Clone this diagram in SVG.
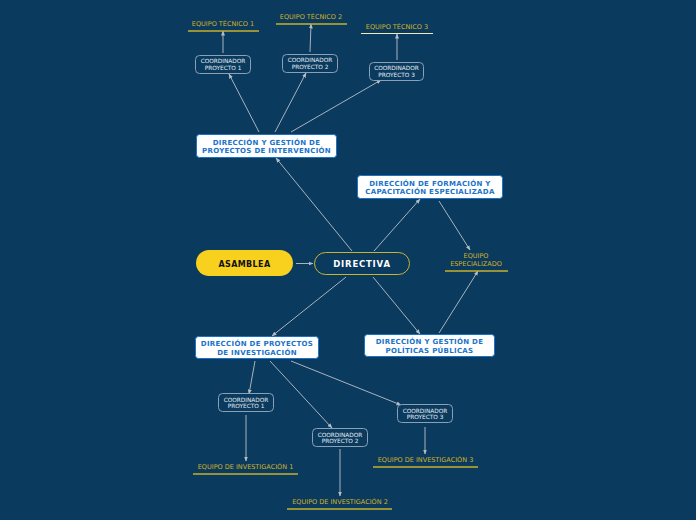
<svg xmlns="http://www.w3.org/2000/svg" width="696" height="520" viewBox="0 0 696 520">
<defs>
<marker id="arr" viewBox="0 0 10 10" refX="9" refY="5" markerWidth="5" markerHeight="5" orient="auto-start-reverse" markerUnits="userSpaceOnUse">
<path d="M0,1 L10,5 L0,9 Z" fill="#b4bcc4"/>
</marker>
<style>
.bg{fill:#0a3a5e}
.c{stroke:#a9b3bd;stroke-width:1;fill:none;marker-end:url(#arr)}
.main{fill:#ffffff;stroke:#1a73c9;stroke-width:1}
.mt{font-family:"DejaVu Sans",Verdana,sans-serif;font-weight:bold;font-size:7px;fill:#1a73c9;text-anchor:middle;letter-spacing:0.3px}
.coord{fill:#0a3a5e;stroke:#8aa0b4;stroke-width:1}
.ct{font-family:"DejaVu Sans",Verdana,sans-serif;font-size:5.8px;fill:#e6ecf2;text-anchor:middle}
.et{font-family:"DejaVu Sans",Verdana,sans-serif;font-size:6.5px;fill:#d4b227;text-anchor:middle}
.ul{stroke:#c9b12a;stroke-width:1.5}
</style>
</defs>
<rect class="bg" x="0" y="0" width="696" height="520"/>

<g id="connectors">
<line class="c" x1="296" y1="263.5" x2="313" y2="263.5"/>
<line class="c" x1="352" y1="251" x2="276" y2="158"/>
<line class="c" x1="374" y1="251" x2="420" y2="199"/>
<line class="c" x1="346" y1="277" x2="272" y2="336"/>
<line class="c" x1="373" y1="277" x2="420" y2="334"/>
<line class="c" x1="439" y1="201" x2="470" y2="250"/>
<line class="c" x1="439" y1="333" x2="478" y2="271"/>
<line class="c" x1="259" y1="132" x2="229" y2="74"/>
<line class="c" x1="275" y1="132" x2="306" y2="73"/>
<line class="c" x1="291" y1="132" x2="381" y2="80"/>
<line class="c" x1="223" y1="53" x2="223" y2="31"/>
<line class="c" x1="310" y1="52" x2="311" y2="24"/>
<line class="c" x1="397" y1="60" x2="397" y2="34"/>
<line class="c" x1="255" y1="361" x2="249" y2="394"/>
<line class="c" x1="270" y1="361" x2="332" y2="428"/>
<line class="c" x1="291" y1="361" x2="401" y2="405"/>
<line class="c" x1="246" y1="415" x2="246" y2="461"/>
<line class="c" x1="340" y1="449" x2="340" y2="496"/>
<line class="c" x1="425" y1="427" x2="425" y2="454"/>
</g>

<g id="asamblea">
<rect x="196" y="250" width="97" height="26" rx="13" fill="#f8d01e"/>
<text x="244.5" y="266.5" font-family="DejaVu Sans,Verdana,sans-serif" font-weight="bold" font-size="8px" fill="#111" text-anchor="middle" letter-spacing="0.4">ASAMBLEA</text>
</g>

<g id="directiva">
<rect x="314.5" y="252.5" width="95" height="22" rx="11" fill="#0a3a5e" stroke="#c7b52e" stroke-width="1"/>
<text x="362" y="266.5" font-family="DejaVu Sans,Verdana,sans-serif" font-weight="bold" font-size="8.5px" fill="#ffffff" text-anchor="middle" letter-spacing="0.8">DIRECTIVA</text>
</g>

<g id="dgpi">
<rect class="main" x="196.5" y="134.5" width="140" height="23" rx="3"/>
<text class="mt" x="266.5" y="144.5">DIRECCIÓN Y GESTIÓN DE</text>
<text class="mt" x="266.5" y="153">PROYECTOS DE INTERVENCIÓN</text>
</g>

<g id="dfce">
<rect class="main" x="357.5" y="175.5" width="145" height="23" rx="3"/>
<text class="mt" x="430" y="185.5">DIRECCIÓN DE FORMACIÓN Y</text>
<text class="mt" x="430" y="194">CAPACITACIÓN ESPECIALIZADA</text>
</g>

<g id="dpi">
<rect class="main" x="195.5" y="336.5" width="123" height="22" rx="3"/>
<text class="mt" x="257" y="346">DIRECCIÓN DE PROYECTOS</text>
<text class="mt" x="257" y="355">DE INVESTIGACIÓN</text>
</g>

<g id="dgpp">
<rect class="main" x="364.5" y="334.5" width="130" height="22" rx="3"/>
<text class="mt" x="429.5" y="344">DIRECCIÓN Y GESTIÓN DE</text>
<text class="mt" x="429.5" y="353">POLÍTICAS PÚBLICAS</text>
</g>

<g id="equipo-especializado">
<text class="et" x="476" y="258">EQUIPO</text>
<text class="et" x="476" y="266">ESPECIALIZADO</text>
<line class="ul" x1="445" y1="271" x2="508" y2="271"/>
</g>

<g id="coord-top-1">
<rect class="coord" x="195.5" y="55.5" width="55" height="18" rx="4"/>
<text class="ct" x="223" y="63">COORDINADOR</text>
<text class="ct" x="223" y="69.5">PROYECTO 1</text>
</g>
<g id="coord-top-2">
<rect class="coord" x="282.5" y="54.5" width="55" height="18" rx="4"/>
<text class="ct" x="310" y="62">COORDINADOR</text>
<text class="ct" x="310" y="68.5">PROYECTO 2</text>
</g>
<g id="coord-top-3">
<rect class="coord" x="369.5" y="62.5" width="54" height="18" rx="4"/>
<text class="ct" x="396.5" y="70">COORDINADOR</text>
<text class="ct" x="396.5" y="76.5">PROYECTO 3</text>
</g>

<g id="equipo-tecnico-1">
<text class="et" x="223" y="25.5">EQUIPO TÉCNICO 1</text>
<line class="ul" x1="188" y1="31" x2="259" y2="31"/>
</g>
<g id="equipo-tecnico-2">
<text class="et" x="311" y="19">EQUIPO TÉCNICO 2</text>
<line class="ul" x1="276" y1="24" x2="347" y2="24"/>
</g>
<g id="equipo-tecnico-3">
<text class="et" x="397" y="29">EQUIPO TÉCNICO 3</text>
<line x1="361" y1="33.5" x2="433" y2="33.5" stroke="#f2e9b8" stroke-width="1"/>
</g>

<g id="coord-inv-1">
<rect class="coord" x="218.5" y="393.5" width="55" height="18" rx="4"/>
<text class="ct" x="246" y="401.5">COORDINADOR</text>
<text class="ct" x="246" y="408">PROYECTO 1</text>
</g>
<g id="coord-inv-2">
<rect class="coord" x="312.5" y="428.5" width="55" height="18" rx="4"/>
<text class="ct" x="340" y="436.5">COORDINADOR</text>
<text class="ct" x="340" y="443">PROYECTO 2</text>
</g>
<g id="coord-inv-3">
<rect class="coord" x="397.5" y="404.5" width="55" height="18" rx="4"/>
<text class="ct" x="425" y="412.5">COORDINADOR</text>
<text class="ct" x="425" y="419">PROYECTO 3</text>
</g>

<g id="equipo-inv-1">
<text class="et" x="245.5" y="469">EQUIPO DE INVESTIGACIÓN 1</text>
<line class="ul" x1="193" y1="474" x2="298" y2="474"/>
</g>
<g id="equipo-inv-2">
<text class="et" x="340" y="504">EQUIPO DE INVESTIGACIÓN 2</text>
<line class="ul" x1="287" y1="509" x2="392" y2="509"/>
</g>
<g id="equipo-inv-3">
<text class="et" x="425.5" y="462">EQUIPO DE INVESTIGACIÓN 3</text>
<line class="ul" x1="373" y1="467" x2="478" y2="467"/>
</g>
</svg>
